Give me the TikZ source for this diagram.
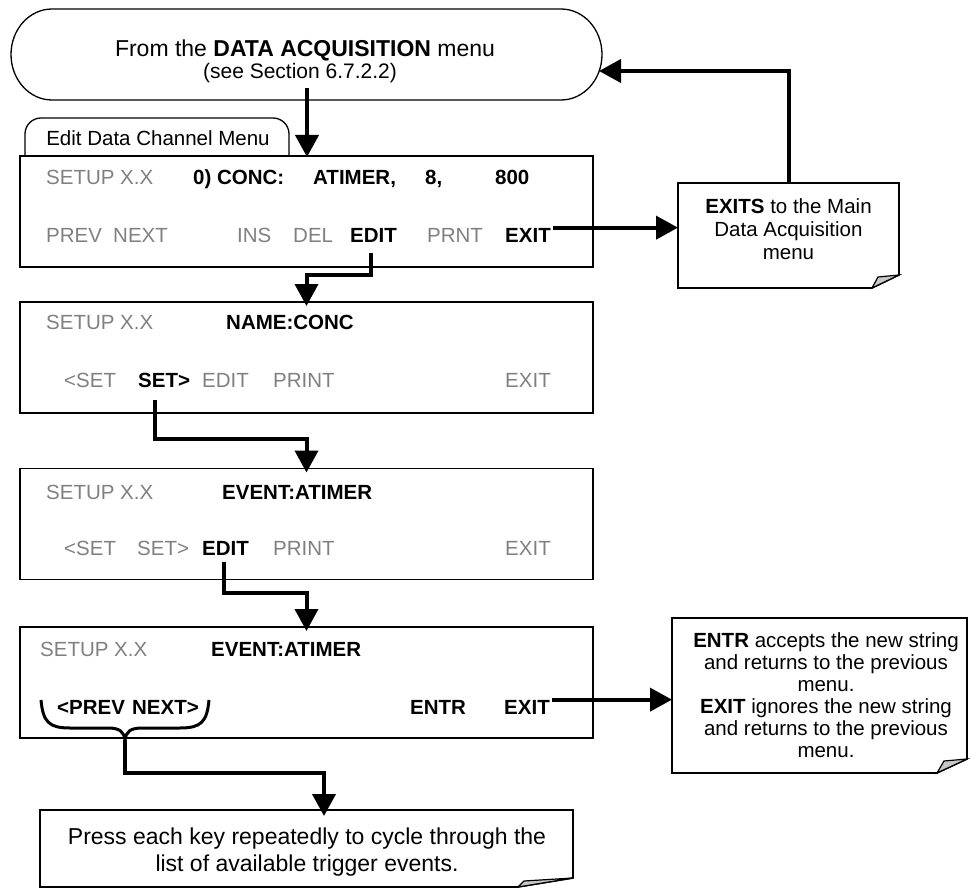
\documentclass[tikz,border=0pt]{standalone}
\usepackage{fontspec}
\setmainfont{Liberation Sans}
\usetikzlibrary{arrows.meta}
\definecolor{txtgray}{RGB}{128,128,128}
\definecolor{foldgray}{RGB}{200,200,200}
\tikzset{
  conn/.style={line width=4pt, -{Triangle[length=22pt,width=23pt]}},
  menubox/.style={draw, line width=1.6pt, minimum width=573pt, minimum height=111pt, inner sep=0pt, outer sep=0pt},
  gt/.style={anchor=base west, inner sep=0pt, text=txtgray, font=\fontsize{20.5}{23}\selectfont},
  bt/.style={anchor=base west, inner sep=0pt, font=\fontsize{20.5}{23}\selectfont\bfseries},
  noteframe/.style={inner sep=0pt, outer sep=0pt},
  notetext/.style={inner sep=0pt, align=center, font=\fontsize{20.5}{22.5}\selectfont},
  notebd/.style={line width=1.6pt},
  fold/.style={line width=1.2pt, fill=foldgray},
  thinbd/.style={line width=1.3pt},
}
\begin{document}
\begin{tikzpicture}[x=1pt,y=-1pt]
\useasboundingbox (0,0) rectangle (970,888);

% terminator
\node[minimum width=590pt, minimum height=91pt, inner sep=0pt, outer sep=0pt] (term) at (307,54.5) {};
\draw[thinbd] (52,9) -- (561,9) arc[start angle=90, end angle=-90, x radius=41pt, y radius=45.5pt]
  -- (52,100) arc[start angle=270, end angle=90, x radius=41pt, y radius=45.5pt] -- cycle;
\node[anchor=base, inner sep=0pt, font=\fontsize{23}{26}\selectfont] (termA) at (305,57) {From the \textbf{DATA ACQUISITION} menu};
\node[anchor=base, inner sep=0pt, font=\fontsize{21}{24}\selectfont] (termB) at (300,79) {(see Section 6.7.2.2)};

% tab
\draw[thinbd, rounded corners=16pt] (25,156) -- (25,118) -- (289,118) -- (289,156);
\node[anchor=base, inner sep=0pt, font=\fontsize{20.5}{23}\selectfont] (tab) at (158,146) {Edit Data Channel Menu};

% menu boxes
\node[menubox] (box1) at (306.5,211.5) {};
\node[menubox] (box2) at (306.5,357.5) {};
\node[menubox] (box3) at (306.5,524) {};
\node[menubox] (box4) at (306.5,682.5) {};

% box 1 texts
\node[gt] (b1s) at (46,185) {SETUP X.X};
\node[bt] (b1c) at (193,185) {0) CONC:};
\node[bt] (b1t) at (313,185) {ATIMER,};
\node[bt] (b1n) at (425,185) {8,};
\node[bt] (b1v) at (495,185) {800};
\node[gt] (b1p) at (46,242) {PREV};
\node[gt] (b1x) at (113,242) {NEXT};
\node[gt] (b1i) at (237,242) {INS};
\node[gt] (b1d) at (293,242) {DEL};
\node[bt] (e1) at (350,242) {EDIT};
\node[gt] (b1r) at (427,242) {PRNT};
\node[bt] (x1) at (505,242) {EXIT};

% box 2 texts
\node[gt] (b2s) at (46,329) {SETUP X.X};
\node[bt] (b2n) at (226,329) {NAME:CONC};
\node[gt] (b2a) at (64,387) {<SET};
\node[bt] (s2) at (138,387) {SET>};
\node[gt] (b2e) at (202,387) {EDIT};
\node[gt] (b2p) at (273,387) {PRINT};
\node[gt] (b2x) at (505,387) {EXIT};

% box 3 texts
\node[gt] (b3s) at (46,499) {SETUP X.X};
\node[bt] (b3n) at (222,499) {EVENT:ATIMER};
\node[gt] (b3a) at (64,555) {<SET};
\node[gt] (b3b) at (137,555) {SET>};
\node[bt] (e3) at (202,555) {EDIT};
\node[gt] (b3p) at (273,555) {PRINT};
\node[gt] (b3x) at (505,555) {EXIT};

% box 4 texts
\node[gt] (b4s) at (40,656) {SETUP X.X};
\node[bt] (b4n) at (211,656) {EVENT:ATIMER};
\node[bt] (b4pn) at (57,714) {<PREV\hspace{0.35em}NEXT>};
\node[bt] (b4en) at (410,714) {ENTR};
\node[bt] (x4) at (504,714) {EXIT};

% notes
\node[noteframe, minimum width=221pt, minimum height=105pt] (exits) at (788.5,235.5) {};
\draw[notebd] (exits.north west) -- (exits.north east) -- ([yshift=13pt]exits.south east)
  -- ([xshift=-27pt]exits.south east) -- (exits.south west) -- cycle;
\draw[fold] ([yshift=13pt]exits.south east) -- ([xshift=-21pt,yshift=11pt]exits.south east) -- ([xshift=-27pt]exits.south east) -- cycle;
\node[notetext, font=\fontsize{20.5}{23}\selectfont] (exitsT) at (788.5,229) {\textbf{EXITS} to the Main\\Data Acquisition\\menu};

\node[noteframe, minimum width=295pt, minimum height=155pt] (entr) at (819.5,695.5) {};
\draw[notebd] (entr.north west) -- (entr.north east) -- ([yshift=14pt]entr.south east)
  -- ([xshift=-30pt]entr.south east) -- (entr.south west) -- cycle;
\draw[fold] ([yshift=14pt]entr.south east) -- ([xshift=-23pt,yshift=12pt]entr.south east) -- ([xshift=-30pt]entr.south east) -- cycle;
\node[notetext, font=\fontsize{20.5}{22}\selectfont] (entrT) at (826,695) {\textbf{ENTR} accepts the new string\\and returns to the previous\\menu.\\\textbf{EXIT} ignores the new string\\and returns to the previous\\menu.};

\node[noteframe, minimum width=533pt, minimum height=77pt] (bnote) at (306.5,848.5) {};
\draw[notebd] (bnote.north west) -- (bnote.north east) -- ([yshift=9pt]bnote.south east)
  -- ([xshift=-55pt]bnote.south east) -- (bnote.south west) -- cycle;
\draw[fold] ([yshift=9pt]bnote.south east) -- ([xshift=-49pt,yshift=6pt]bnote.south east) -- ([xshift=-55pt]bnote.south east) -- cycle;
\node[notetext, font=\fontsize{23}{26.5}\selectfont] (bnoteT) at (307,852) {Press each key repeatedly to cycle through the\\list of available trigger events.};

% brace under <PREV NEXT>
\coordinate (brtip) at (125,740);
\draw[line width=3pt] (41,700) .. controls (43,722) and (49,728) .. (70,728) -- (108,728)
  .. controls (120,728) and (124,732) .. (brtip)
  .. controls (126,732) and (130,728) .. (142,728) -- (180,728)
  .. controls (201,728) and (207,722) .. (209,700);

% connectors
\draw[conn] ([yshift=12pt]term.south) -- ([yshift=-1pt]term.south |- box1.north);
\draw[conn] ([xshift=-3pt]x1.east) ++(5pt,7.3pt) -- ([yshift=7.3pt]x1.east -| exits.west);
\draw[conn] (exits.north) |- ([xshift=-3pt,yshift=-16.5pt]term.east);
\draw[conn] ([xshift=-3pt,yshift=-11pt]e1.south) -- ++(0,22) -| ([yshift=-4pt]box2.north);
\draw[conn] ([xshift=-9pt,yshift=-13pt]s2.south) -- ++(0,39) -| ([yshift=-4pt]box3.north);
\draw[conn] ([xshift=-1.5pt,yshift=-7pt]e3.south) -- ++(0,31) -| ([yshift=-4pt]box4.north);
\draw[conn] ([xshift=2pt,yshift=7.3pt]x4.east) -- ([yshift=7.3pt]x4.east -| entr.west);
\draw[conn] (brtip) -- ++(0,33) -| ([xshift=17.5pt,yshift=-6pt]bnote.north);
\end{tikzpicture}
\end{document}
